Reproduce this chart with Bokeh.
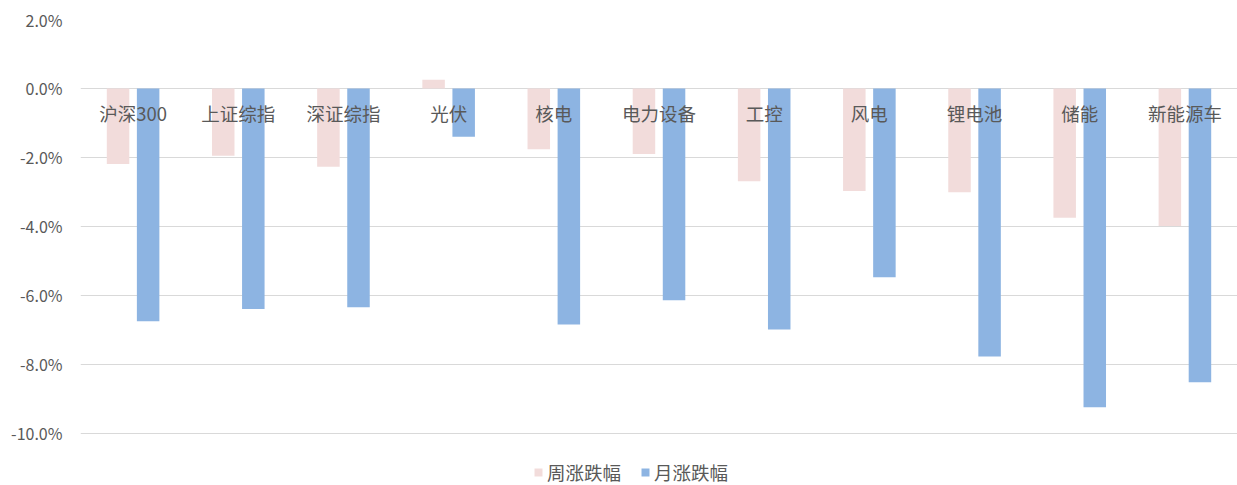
from bokeh.plotting import figure
from bokeh.models import ColumnDataSource, Legend, LegendItem, PrintfTickFormatter, FixedTicker, Range1d
from bokeh.transform import dodge
from bokeh.core.properties import value
from bokeh.embed import file_html
from bokeh.resources import INLINE

categories = ["沪深300", "上证综指", "深证综指", "光伏", "核电", "电力设备", "工控", "风电", "锂电池", "储能", "新能源车"]
weekly = [-2.19, -1.95, -2.27, 0.25, -1.76, -1.90, -2.69, -2.97, -3.01, -3.75, -3.99]
monthly = [-6.75, -6.39, -6.34, -1.40, -6.84, -6.14, -6.99, -5.47, -7.77, -9.24, -8.52]
y_ticks = [-10, -8, -6, -4, -2, 0, 2]
series_names = ["周涨跌幅", "月涨跌幅"]

src = ColumnDataSource(dict(cat=categories, weekly=weekly, monthly=monthly, zero=[0] * len(categories)))

FONT = "Noto Sans CJK SC"
TXT = "#595959"

# frame spans from the top gridline to the bottom of the picture; the lower part holds the legend
p = figure(width=1237, height=485, x_range=categories, y_range=Range1d(-11.51, 2),
           output_backend="svg", toolbar_location=None, x_axis_location=None,
           min_border_left=80, min_border_right=0, min_border_top=19, min_border_bottom=0)
p.outline_line_color = None
p.background_fill_color = "white"
p.xgrid.visible = False
p.ygrid.grid_line_color = "#d9d9d9"
p.ygrid.grid_line_width = 1
p.yaxis.ticker = FixedTicker(ticks=y_ticks)
p.yaxis.formatter = PrintfTickFormatter(format="%.1f%%")
p.yaxis.axis_line_color = None
p.yaxis.major_tick_line_color = None
p.yaxis.major_tick_out = 0
p.yaxis.major_tick_in = 0
p.yaxis.minor_tick_line_color = None
p.yaxis.major_label_text_font = FONT
p.yaxis.major_label_text_font_size = "16px"
p.yaxis.major_label_text_color = TXT
p.yaxis.major_label_standoff = 18

r1 = p.vbar(x=dodge("cat", -0.143, range=p.x_range), top="weekly", width=0.214, source=src,
            fill_color="#F2DCDB", line_color=None)
r2 = p.vbar(x=dodge("cat", 0.143, range=p.x_range), top="monthly", width=0.214, source=src,
            fill_color="#8DB4E2", line_color=None)

p.text(x="cat", y="zero", text="cat", source=src, text_font=value(FONT), text_font_size="18.5px",
       text_color=TXT, text_align="center", text_baseline="middle", y_offset=25)

legend = Legend(items=[LegendItem(label=series_names[0], renderers=[r1]),
                       LegendItem(label=series_names[1], renderers=[r2])],
                orientation="horizontal", location=(453, 0), padding=0, margin=0,
                spacing=19, glyph_width=10, glyph_height=10, label_standoff=4,
                label_text_font=FONT, label_text_font_size="18.5px", label_text_color=TXT,
                border_line_color=None, background_fill_alpha=0)
p.add_layout(legend)

open("out.html", "w").write(file_html(p, INLINE))
